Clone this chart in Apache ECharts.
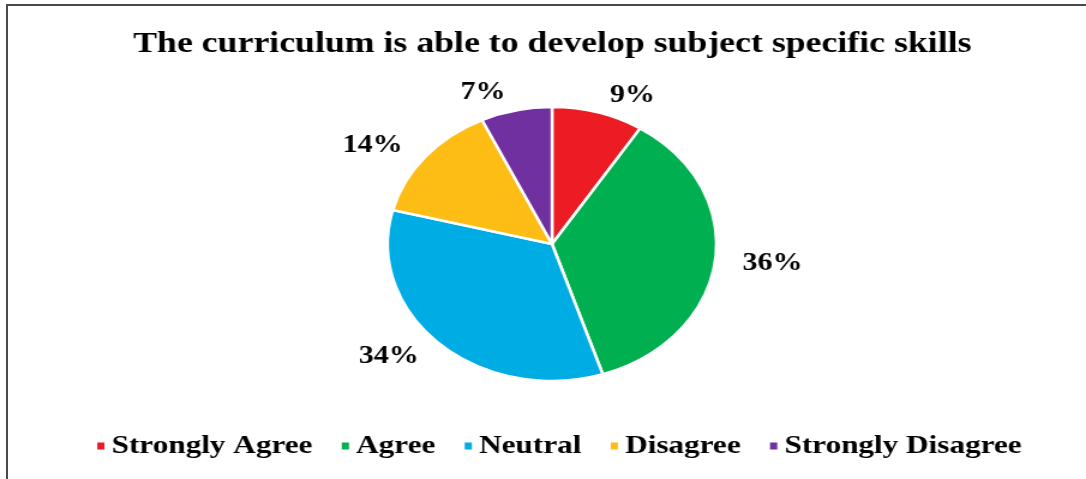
<!DOCTYPE html>
<html>
<head>
<meta charset="utf-8">
<script src="https://cdn.jsdelivr.net/npm/echarts@6/dist/echarts.min.js"></script>
<style>
  html, body { margin: 0; padding: 0; background: #ffffff; }
  #wrap { position: relative; width: 1086px; height: 479px; overflow: hidden; background: #fff; }
  #frame { position: absolute; left: 6px; top: 4px; right: -10px; bottom: -10px; border-left: 2px solid #4a4a4a; border-top: 2px solid #4a4a4a; }
  #chart { position: absolute; left: 0; top: 0; width: 905px; height: 479px; transform: scaleX(1.2); transform-origin: 0 0; }
</style>
</head>
<body>
<div id="wrap">
  <div id="frame"></div>
  <div id="chart"></div>
</div>
<script>
const titleText = 'The curriculum is able to develop subject specific skills';
const categories = ['Strongly Agree', 'Agree', 'Neutral', 'Disagree', 'Strongly Disagree'];
const values = [9, 36, 34, 14, 7];
const colors = ['#ED1C24', '#00B050', '#00ACE4', '#FDBD14', '#7030A0'];

const seriesData = categories.map((name, i) => ({ name: name, value: values[i], itemStyle: { color: colors[i] } }));
const serif = '"Liberation Serif", "DejaVu Serif", serif';

const chart = echarts.init(document.getElementById('chart'), null, { renderer: 'canvas' });
chart.setOption({
  animation: false,
  title: {
    text: titleText,
    left: 106,
    top: 24,
    textStyle: { fontFamily: serif, fontWeight: 'bold', fontSize: 29.8, color: '#000' }
  },
  legend: {
    data: categories,
    bottom: 15,
    left: 74,
    icon: 'rect',
    itemWidth: 8,
    itemHeight: 9,
    itemGap: 22.5,
    textStyle: { fontFamily: serif, fontWeight: 'bold', fontSize: 26, color: '#000' }
  },
  series: [{
    type: 'pie',
    center: [460, 244],
    radius: 137,
    startAngle: 90,
    clockwise: true,
    itemStyle: { borderColor: '#fff', borderWidth: 2.5 },
    label: {
      show: true,
      position: 'outside',
      formatter: '{c}%',
      fontFamily: serif,
      fontWeight: 'bold',
      fontSize: 25,
      color: '#000'
    },
    labelLine: { show: false, length: 18, length2: 0 },
    data: seriesData
  }]
});
</script>
</body>
</html>
